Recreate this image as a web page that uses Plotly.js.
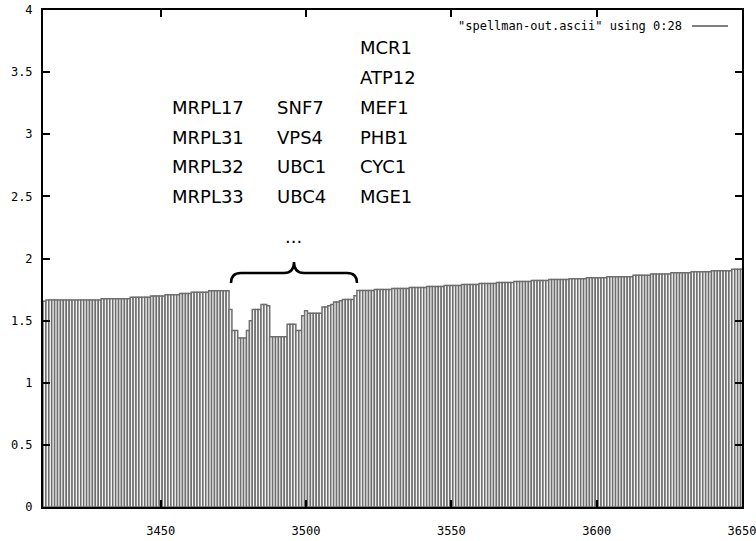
<!DOCTYPE html>
<html>
<head>
<meta charset="utf-8">
<script src="https://cdn.plot.ly/plotly-3.0.1.min.js"></script>
<style>
  html, body { margin: 0; padding: 0; background: #fff; }
  #chart { width: 756px; height: 541px; }
</style>
</head>
<body>
<div id="chart"></div>
<script>
// Column 28 of spellman-out.ascii, plotted against the row number (rows 3410-3650)
const firstRow = 3410;
const column28 = [
  // 3410-3429
  1.655, 1.666, 1.666, 1.666, 1.666, 1.666, 1.666, 1.666, 1.666, 1.666,
  1.666, 1.666, 1.666, 1.666, 1.666, 1.666, 1.666, 1.666, 1.666, 1.666,
  // 3430-3449
  1.676, 1.676, 1.676, 1.676, 1.676, 1.676, 1.676, 1.676, 1.676, 1.676,
  1.688, 1.688, 1.688, 1.688, 1.688, 1.688, 1.688, 1.698, 1.698, 1.698,
  // 3450-3469
  1.698, 1.698, 1.708, 1.708, 1.708, 1.708, 1.708, 1.718, 1.718, 1.718,
  1.718, 1.728, 1.728, 1.728, 1.728, 1.728, 1.728, 1.740, 1.740, 1.740,
  // 3470-3489
  1.740, 1.740, 1.740, 1.740, 1.59, 1.42, 1.42, 1.36, 1.36, 1.36,
  1.42, 1.50, 1.59, 1.59, 1.59, 1.63, 1.63, 1.62, 1.37, 1.37,
  // 3490-3509
  1.37, 1.37, 1.37, 1.37, 1.47, 1.47, 1.47, 1.42, 1.42, 1.54,
  1.58, 1.56, 1.56, 1.56, 1.56, 1.56, 1.61, 1.61, 1.62, 1.63,
  // 3510-3529
  1.65, 1.65, 1.66, 1.67, 1.67, 1.67, 1.67, 1.70, 1.742, 1.742,
  1.742, 1.742, 1.742, 1.742, 1.750, 1.750, 1.750, 1.750, 1.750, 1.750,
  // 3530-3549
  1.758, 1.758, 1.758, 1.758, 1.758, 1.758, 1.766, 1.766, 1.766, 1.766,
  1.766, 1.766, 1.774, 1.774, 1.774, 1.774, 1.774, 1.774, 1.782, 1.782,
  // 3550-3569
  1.782, 1.782, 1.782, 1.782, 1.790, 1.790, 1.790, 1.790, 1.790, 1.790,
  1.798, 1.798, 1.798, 1.798, 1.798, 1.798, 1.806, 1.806, 1.806, 1.806,
  // 3570-3589
  1.806, 1.806, 1.814, 1.814, 1.814, 1.814, 1.814, 1.814, 1.822, 1.822,
  1.822, 1.822, 1.822, 1.822, 1.830, 1.830, 1.830, 1.830, 1.830, 1.830,
  // 3590-3609
  1.830, 1.838, 1.838, 1.838, 1.838, 1.838, 1.838, 1.846, 1.846, 1.846,
  1.846, 1.846, 1.846, 1.846, 1.854, 1.854, 1.854, 1.854, 1.854, 1.854,
  // 3610-3629
  1.854, 1.854, 1.854, 1.865, 1.865, 1.865, 1.865, 1.865, 1.865, 1.875,
  1.875, 1.875, 1.875, 1.875, 1.875, 1.875, 1.886, 1.886, 1.886, 1.886,
  // 3630-3649
  1.886, 1.886, 1.886, 1.894, 1.894, 1.894, 1.894, 1.894, 1.894, 1.894,
  1.902, 1.902, 1.902, 1.902, 1.902, 1.902, 1.902, 1.913, 1.913, 1.913,
  // 3650
  1.913
];
const rowIndex = column28.map((_, i) => firstRow + i);

const xTicks = [3450, 3500, 3550, 3600, 3650];
const yTicks = [0, 0.5, 1, 1.5, 2, 2.5, 3, 3.5, 4];
const seriesLabel = '"spellman-out.ascii" using 0:28';

// genes of the dip, listed in three columns above the brace
const genesCol1 = ["MRPL17", "MRPL31", "MRPL32", "MRPL33"];
const genesCol2 = ["SNF7", "VPS4", "UBC1", "UBC4"];
const genesCol3 = ["MCR1", "ATP12", "MEF1", "PHB1", "CYC1", "MGE1"];
const moreGenes = "...";

// plot frame in page pixels
const W = 756, H = 541;
const M = { l: 43, r: 14, t: 10, b: 34 };
const PW = W - M.l - M.r, PH = H - M.t - M.b;
const px = v => (v - M.l) / PW;
const py = v => (H - M.b - v) / PH;

const monoFont = { family: "DejaVu Sans Mono, Liberation Mono, monospace", size: 12, color: "#000" };
const geneFont = { family: "DejaVu Sans, Verdana, sans-serif", size: 18, color: "#000" };

const annotations = [];
const rowY = [48, 77.7, 107.3, 137, 166.6, 196.2];
function addColumn(list, leftPx, firstRowIdx) {
  list.forEach((g, i) => annotations.push({
    xref: "paper", yref: "paper", x: px(leftPx), y: py(rowY[firstRowIdx + i]),
    xanchor: "left", yanchor: "middle", text: g, showarrow: false, font: geneFont
  }));
}
addColumn(genesCol1, 170, 2);
addColumn(genesCol2, 275, 2);
addColumn(genesCol3, 358, 0);
annotations.push({
  xref: "paper", yref: "paper", x: px(293.5), y: py(236),
  xanchor: "center", yanchor: "middle", text: moreGenes, showarrow: false, font: geneFont
});
// key
annotations.push({
  xref: "paper", yref: "paper", x: px(684), y: py(26),
  xanchor: "right", yanchor: "middle", text: seriesLabel, showarrow: false, font: monoFont
});

// curly brace over the dip
const P = (a, b) => px(a).toFixed(5) + "," + py(b).toFixed(5);
const bracePath =
  "M" + P(231, 283) + " Q" + P(231, 273) + " " + P(241, 273) +
  " L" + P(284, 273) + " Q" + P(294, 273) + " " + P(294, 262) +
  " Q" + P(294, 273) + " " + P(304, 273) +
  " L" + P(347, 273) + " Q" + P(357, 273) + " " + P(357, 283);

const shapes = [
  { type: "path", xref: "paper", yref: "paper", path: bracePath,
    line: { color: "#000", width: 2.5 } },
  { type: "line", xref: "paper", yref: "paper",
    x0: px(692), x1: px(728), y0: py(26), y1: py(26),
    line: { color: "#000", width: 1 } }
];

const trace = {
  type: "bar",
  x: rowIndex,
  y: column28,
  width: 1,
  name: seriesLabel,
  marker: { color: "#f4f4f4", line: { color: "#6e6e6e", width: 1.5 } },
  hoverinfo: "x+y"
};

const axisCommon = {
  showgrid: false, zeroline: false,
  showline: true, linecolor: "#000", linewidth: 2, mirror: "ticks",
  ticks: "inside", ticklen: 7, tickwidth: 2, tickcolor: "#000",
  tickfont: monoFont, ticklabeloverflow: "allow"
};

const layout = {
  width: W, height: H,
  margin: M,
  paper_bgcolor: "#fff", plot_bgcolor: "#fff",
  showlegend: false,
  xaxis: Object.assign({}, axisCommon, {
    range: [3409.5, 3650], tickmode: "array", tickvals: xTicks,
    ticktext: xTicks.map(String), ticklabelstandoff: 12
  }),
  yaxis: Object.assign({}, axisCommon, {
    range: [0, 4], tickmode: "array", tickvals: yTicks,
    ticktext: yTicks.map(String), ticklabelstandoff: 6
  }),
  annotations: annotations,
  shapes: shapes
};

Plotly.newPlot("chart", [trace], layout, { staticPlot: true, displayModeBar: false });
</script>
</body>
</html>
